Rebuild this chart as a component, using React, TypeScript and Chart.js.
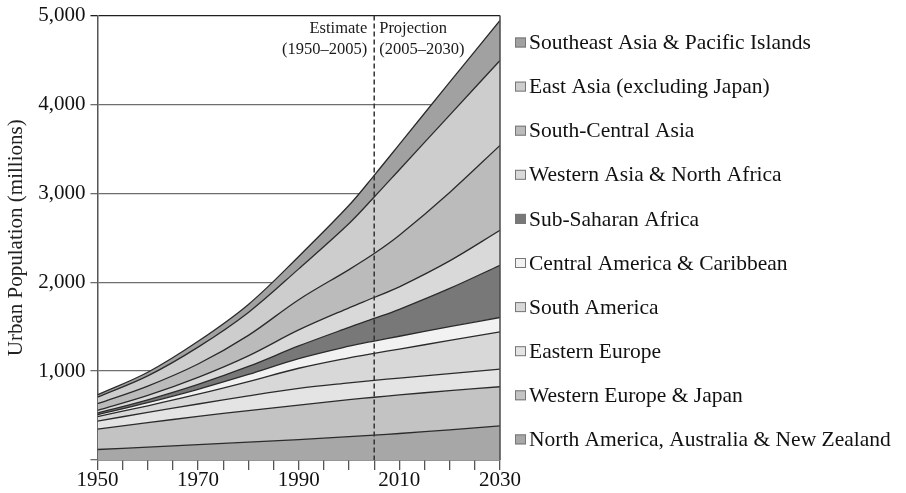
import React, { useEffect, useRef } from "react";
import { Chart, registerables } from "chart.js";

Chart.register(...registerables);

// Urban population by region, millions (estimates to 2005, projections to 2030)
const YEARS = [1950, 1960, 1970, 1980, 1990, 2000, 2005, 2010, 2020, 2030];

const NORTH_AMERICA_AUS_NZ = [118, 145, 173, 200, 230, 262, 280, 298, 340, 385];
const WESTERN_EUROPE_JAPAN = [230, 275, 317, 356, 388, 416, 426, 434, 440, 439];
const EASTERN_EUROPE = [90, 115, 140, 166, 187, 190, 190, 190, 192, 198];
const SOUTH_AMERICA = [50, 75, 110, 160, 227, 282, 304, 326, 373, 420];
const CENTRAL_AMERICA_CARIBBEAN = [20, 35, 55, 80, 108, 130, 138, 144, 155, 161];
const SUB_SAHARAN_AFRICA = [20, 32, 55, 90, 143, 212, 254, 303, 430, 588];
const WESTERN_ASIA_NORTH_AFRICA = [30, 50, 80, 120, 180, 220, 236, 253, 310, 393];
const SOUTH_CENTRAL_ASIA = [75, 105, 150, 230, 340, 430, 494, 580, 770, 955];
const EAST_ASIA = [75, 115, 190, 258, 347, 518, 636, 737, 870, 955];
const SOUTHEAST_ASIA_PACIFIC = [25, 40, 65, 90, 140, 205, 244, 285, 370, 450];

// Stacked bottom to top
const REGION_LABELS = [
  "North America, Australia & New Zealand",
  "Western Europe & Japan",
  "Eastern Europe",
  "South America",
  "Central America & Caribbean",
  "Sub-Saharan Africa",
  "Western Asia & North Africa",
  "South-Central Asia",
  "East Asia (excluding Japan)",
  "Southeast Asia & Pacific Islands",
];
const REGION_VALUES = [
  NORTH_AMERICA_AUS_NZ,
  WESTERN_EUROPE_JAPAN,
  EASTERN_EUROPE,
  SOUTH_AMERICA,
  CENTRAL_AMERICA_CARIBBEAN,
  SUB_SAHARAN_AFRICA,
  WESTERN_ASIA_NORTH_AFRICA,
  SOUTH_CENTRAL_ASIA,
  EAST_ASIA,
  SOUTHEAST_ASIA_PACIFIC,
];
const REGION_FILLS = [
  "#a7a7a7",
  "#c3c3c3",
  "#e4e4e4",
  "#d8d8d8",
  "#f2f2f2",
  "#787878",
  "#d9d9d9",
  "#bbbbbb",
  "#cdcdcd",
  "#a1a1a1",
];

const Y_TICKS = [0, 1000, 2000, 3000, 4000, 5000];
const X_LABEL_YEARS = [1950, 1970, 1990, 2010, 2030];
const SPLIT_YEAR = 2005;
const PERIOD_LEFT = ["Estimate", "(1950\u20132005)"];
const PERIOD_RIGHT = ["Projection", "(2005\u20132030)"];
const Y_TITLE = "Urban Population (millions)";

const SERIF = '"Liberation Serif", "DejaVu Serif", serif';

const periodPlugin = {
  id: "periodDivider",
  afterDatasetsDraw(chart: any) {
    const { ctx, chartArea, scales } = chart;
    const x = scales.x.getPixelForValue(SPLIT_YEAR);
    ctx.save();
    // right frame of the plot
    ctx.strokeStyle = "#4a4a4a";
    ctx.lineWidth = 1.5;
    ctx.beginPath();
    ctx.moveTo(chartArea.right, chartArea.top);
    ctx.lineTo(chartArea.right, chartArea.bottom);
    ctx.stroke();
    // dashed divider between estimate and projection
    ctx.strokeStyle = "#333";
    ctx.lineWidth = 1.5;
    ctx.setLineDash([5, 3]);
    ctx.beginPath();
    ctx.moveTo(x, chartArea.top);
    ctx.lineTo(x, chartArea.bottom);
    ctx.stroke();
    ctx.setLineDash([]);
    ctx.font = `16.5px ${SERIF}`;
    ctx.fillStyle = "#1a1a1a";
    ctx.textBaseline = "middle";
    ctx.textAlign = "right";
    PERIOD_LEFT.forEach((t, i) => ctx.fillText(t, x - 7, chartArea.top + 13 + i * 21));
    ctx.textAlign = "left";
    PERIOD_RIGHT.forEach((t, i) => ctx.fillText(t, x + 5, chartArea.top + 13 + i * 21));
    ctx.restore();
  },
};

const sideLegendPlugin = {
  id: "sideLegend",
  afterDraw(chart: any) {
    const { ctx, chartArea } = chart;
    const items = chart.data.datasets.slice().reverse();
    const step = 44.1;
    const x0 = chartArea.right + 15;
    ctx.save();
    ctx.font = `21.5px ${SERIF}`;
    ctx.textAlign = "left";
    ctx.textBaseline = "middle";
    items.forEach((ds: any, i: number) => {
      const y = chartArea.top + 27 + i * step;
      ctx.fillStyle = ds.backgroundColor;
      ctx.fillRect(x0, y - 5, 11, 10);
      ctx.strokeStyle = "#777";
      ctx.lineWidth = 1;
      ctx.strokeRect(x0 + 0.5, y - 4.5, 10, 9);
      ctx.fillStyle = "#111";
      ctx.fillText(ds.label, x0 + 14, y + 1);
    });
    ctx.restore();
  },
};

export default function App() {
  const canvasRef = useRef<HTMLCanvasElement | null>(null);

  useEffect(() => {
    if (!canvasRef.current) return;
    const datasets = REGION_LABELS.map((label, i) => ({
      label,
      data: YEARS.map((yr, j) => ({ x: yr, y: REGION_VALUES[i][j] })),
      backgroundColor: REGION_FILLS[i],
      borderColor: "#2b2b2b",
      borderWidth: 1.3,
      pointRadius: 0,
      tension: 0.35,
      fill: i === 0 ? "origin" : "-1",
    }));

    const chart = new Chart(canvasRef.current, {
      type: "line",
      data: { datasets },
      plugins: [periodPlugin, sideLegendPlugin],
      options: {
        animation: false,
        responsive: false,
        layout: { padding: { top: 15, right: 406, bottom: 2, left: 0 } },
        plugins: {
          legend: { display: false },
          tooltip: { enabled: false },
          filler: { propagate: false },
        },
        scales: {
          x: {
            type: "linear",
            min: YEARS[0],
            max: YEARS[YEARS.length - 1],
            grid: {
              display: true,
              drawOnChartArea: false,
              drawTicks: true,
              tickLength: 10,
              color: "#555",
              lineWidth: 1.3,
            },
            border: { display: true, color: "#555", width: 1.5 },
            ticks: {
              stepSize: 5,
              autoSkip: false,
              maxRotation: 0,
              padding: 0,
              color: "#111",
              font: { family: SERIF, size: 21, lineHeight: 1 },
              callback: (v: any) => (X_LABEL_YEARS.includes(Number(v)) ? String(v) : ""),
            },
          },
          y: {
            type: "linear",
            stacked: true,
            min: Y_TICKS[0],
            max: Y_TICKS[Y_TICKS.length - 1],
            afterBuildTicks: (scale: any) => {
              scale.ticks = Y_TICKS.map((v) => ({ value: v }));
            },
            grid: {
              drawTicks: true,
              tickLength: 7,
              lineWidth: 1.3,
              color: (c: any) => (c.tick && c.tick.value === 5000 ? "#1e1e1e" : "#6e6e6e"),
            },
            border: { display: true, color: "#555", width: 1.5 },
            ticks: {
              padding: 5,
              color: "#111",
              font: { family: SERIF, size: 21, lineHeight: 1 },
              callback: (v: any) => (Number(v) === 0 ? "" : Number(v).toLocaleString("en-US")),
            },
            title: {
              display: true,
              text: Y_TITLE,
              color: "#222",
              font: { family: SERIF, size: 21 },
              padding: { top: 4, bottom: 4 },
            },
          },
        },
      },
    });
    return () => chart.destroy();
  }, []);

  return (
    <div style={{ position: "absolute", left: 0, top: 0, width: 906, height: 493, background: "#fff" }}>
      <canvas ref={canvasRef} width={906} height={493} />
    </div>
  );
}
